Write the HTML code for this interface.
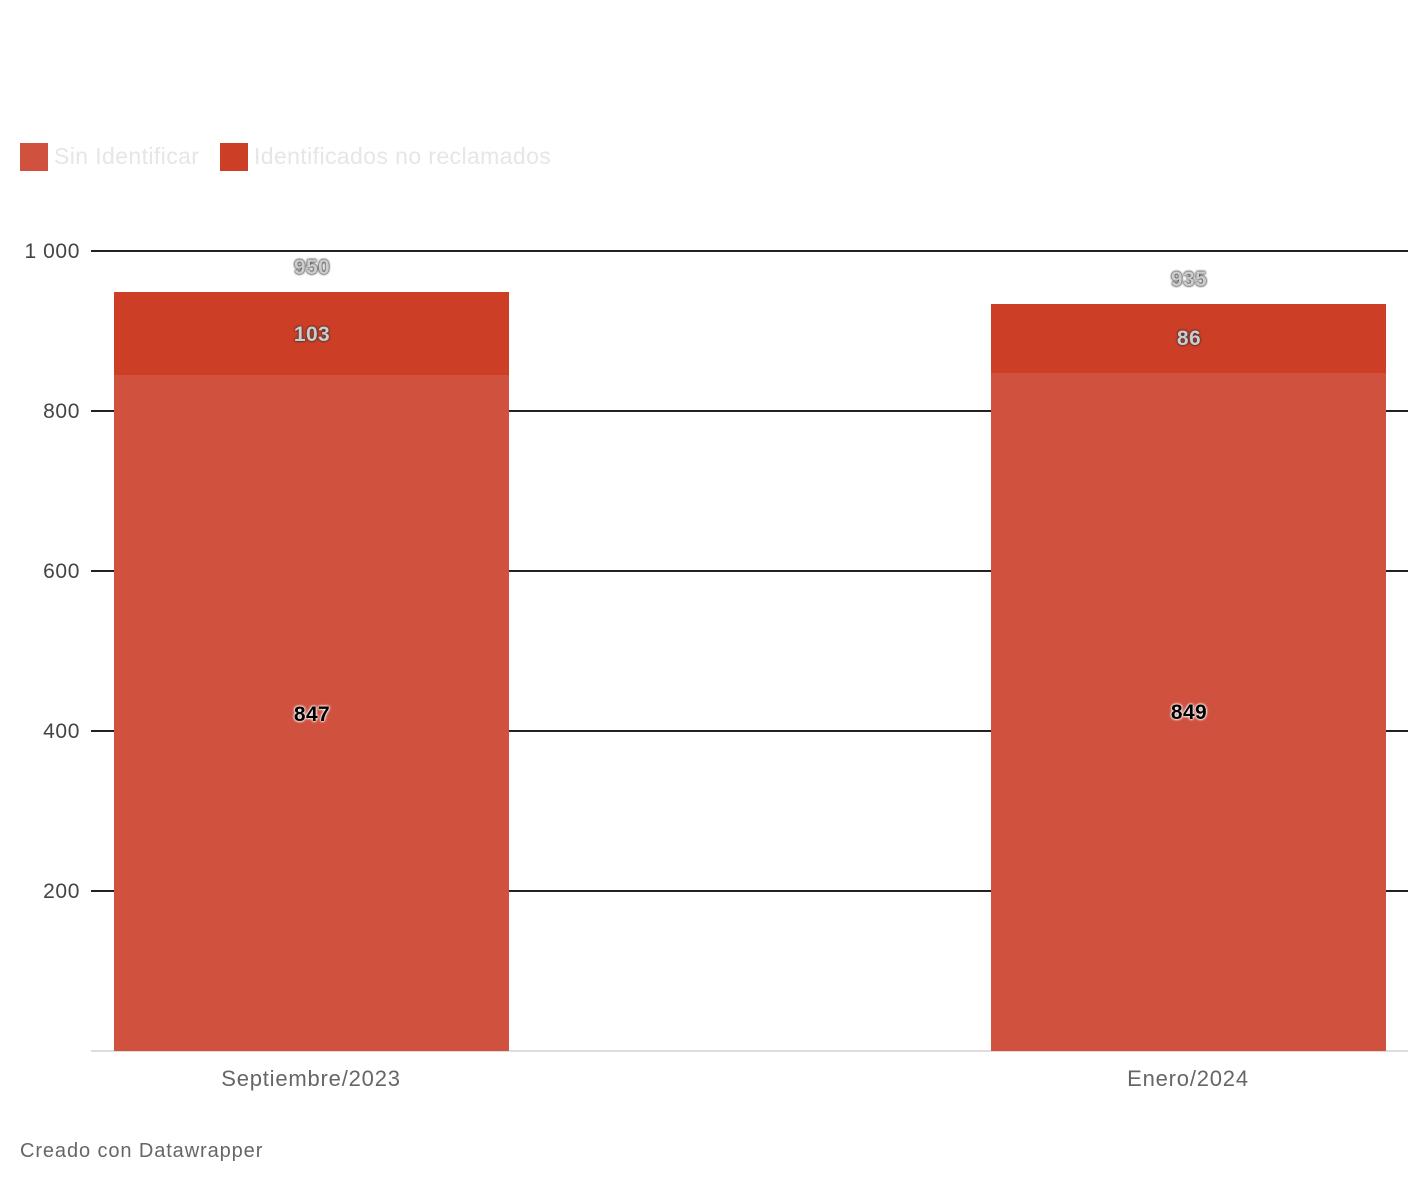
<!DOCTYPE html>
<html><head><meta charset="utf-8"><style>
body{margin:0;width:1428px;height:1186px;background:#fff;position:relative;font-family:"Liberation Sans",sans-serif;overflow:hidden}
div{position:absolute}
.g{left:91px;width:1317px;height:2px;background:#222}
.yl{left:0;width:80px;text-align:right;font-size:21px;color:#444;line-height:24px;letter-spacing:0.6px}
.lab{font-size:21px;font-weight:bold;text-align:center;width:120px;line-height:24px;letter-spacing:0.4px}
.w{color:#ccc;text-shadow:0 0 2px #333,0 0 2px #333}
.k{color:#000;text-shadow:0 0 2px #fff,0 0 2px #fff,0 0 3px #fff}
.xl{font-size:22px;color:#666;text-align:center;width:300px;letter-spacing:0.8px}
</style></head><body>
<div style="left:20px;top:143px;width:28px;height:28px;background:#cf513e"></div>
<div style="left:54px;top:143px;font-size:23px;color:#e6e6e6;letter-spacing:0.4px">Sin Identificar</div>
<div style="left:220px;top:143px;width:28px;height:28px;background:#cd3e27"></div>
<div style="left:254px;top:143px;font-size:23px;color:#e6e6e6;letter-spacing:0.4px">Identificados no reclamados</div>

<div class="g" style="top:250px"></div>
<div class="g" style="top:410px"></div>
<div class="g" style="top:570px"></div>
<div class="g" style="top:730px"></div>
<div class="g" style="top:890px"></div>
<div style="left:91px;width:1317px;top:1050px;height:2px;background:#ddd"></div>
<div class="yl" style="top:240px">1 000</div>
<div class="yl" style="top:400px">800</div>
<div class="yl" style="top:560px">600</div>
<div class="yl" style="top:720px">400</div>
<div class="yl" style="top:880px">200</div>

<div style="left:114px;width:395px;top:292px;height:83px;background:#cd3e27"></div>
<div style="left:114px;width:395px;top:375px;height:676px;background:#cf513e"></div>
<div style="left:991px;width:395px;top:304px;height:69px;background:#cd3e27"></div>
<div style="left:991px;width:395px;top:373px;height:678px;background:#cf513e"></div>

<div class="lab w" style="left:252px;top:256px">950</div>
<div class="lab w" style="left:252px;top:323px">103</div>
<div class="lab k" style="left:252px;top:703px">847</div>
<div class="lab w" style="left:1129px;top:268px">935</div>
<div class="lab w" style="left:1129px;top:327px">86</div>
<div class="lab k" style="left:1129px;top:701px">849</div>

<div class="xl" style="left:161px;top:1066px">Septiembre/2023</div>
<div class="xl" style="left:1038px;top:1066px">Enero/2024</div>
<div style="left:20px;top:1140px;font-size:20px;color:#666;letter-spacing:0.9px">Creado con Datawrapper</div>
</body></html>
